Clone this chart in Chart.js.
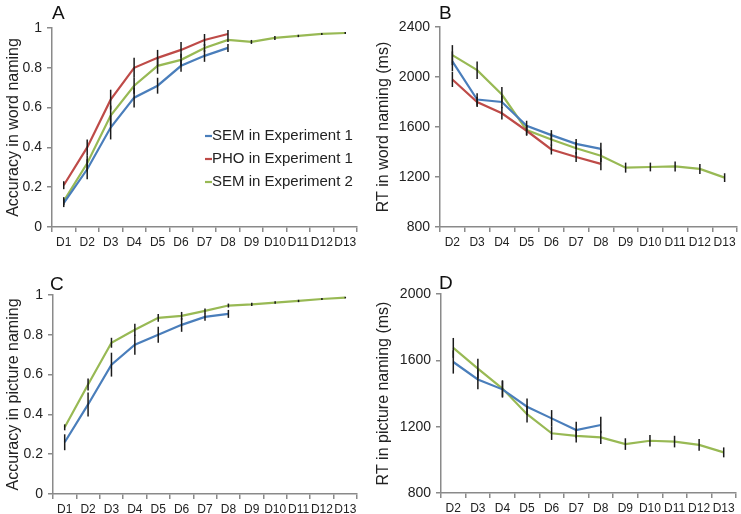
<!DOCTYPE html>
<html>
<head>
<meta charset="utf-8">
<script src="https://cdn.jsdelivr.net/npm/chart.js@4.4.1/dist/chart.umd.min.js"></script>
<style>
  body { margin: 0; background: #fff; width: 741px; height: 514px; overflow: hidden; }
  .panel { position: absolute; }
  .letter { position: absolute; font-family: "Liberation Sans", Arial, sans-serif; font-size: 19px; color: #111; }
</style>
</head>
<body>
<div class="panel" style="left:0;top:0;width:370px;height:257px"><canvas id="chartA"></canvas></div>
<div class="panel" style="left:370px;top:0;width:371px;height:257px"><canvas id="chartB"></canvas></div>
<div class="panel" style="left:0;top:257px;width:370px;height:257px"><canvas id="chartC"></canvas></div>
<div class="panel" style="left:370px;top:257px;width:371px;height:257px"><canvas id="chartD"></canvas></div>
<div class="letter" style="left:52px;top:2px">A</div>
<div class="letter" style="left:439px;top:2px">B</div>
<div class="letter" style="left:50px;top:273px">C</div>
<div class="letter" style="left:439px;top:272px">D</div>
<script>
// Dias
const daysAll = ['D1', 'D2', 'D3', 'D4', 'D5', 'D6', 'D7', 'D8', 'D9', 'D10', 'D11', 'D12', 'D13'];
const daysRT = ['D2', 'D3', 'D4', 'D5', 'D6', 'D7', 'D8', 'D9', 'D10', 'D11', 'D12', 'D13'];

// A - acurácia na nomeação de palavras
const accWordSem1 = [0.12, 0.29, 0.50, 0.65, 0.71, 0.81, 0.86, 0.90];
const accWordSem1Err = [0.02, 0.05, 0.06, 0.05, 0.04, 0.03, 0.03, 0.02];
const accWordPho1 = [0.21, 0.40, 0.64, 0.80, 0.85, 0.89, 0.94, 0.97];
const accWordPho1Err = [0.02, 0.04, 0.05, 0.05, 0.04, 0.04, 0.03, 0.02];
const accWordSem2 = [0.13, 0.32, 0.56, 0.71, 0.81, 0.84, 0.90, 0.94, 0.93, 0.95, 0.96, 0.97, 0.975];
const accWordSem2Err = [0.02, 0.04, 0.05, 0.04, 0.04, 0.03, 0.02, 0.01, 0.01, 0.01, 0.006, 0.005, 0.005];

// B - RT na nomeação de palavras
const rtWordSem1 = [2125, 1820, 1800, 1610, 1535, 1465, 1425];
const rtWordSem1Err = [80, 50, 50, 40, 40, 40, 50];
const rtWordPho1 = [1980, 1800, 1710, 1570, 1420, 1360, 1305];
const rtWordPho1Err = [60, 40, 50, 40, 40, 40, 50];
const rtWordSem2 = [2175, 2055, 1860, 1575, 1500, 1430, 1370, 1275, 1280, 1285, 1265, 1195];
const rtWordSem2Err = [80, 70, 60, 40, 50, 50, 50, 40, 35, 40, 40, 35];

// C - acurácia na nomeação de figuras
const accPicSem1 = [0.26, 0.45, 0.65, 0.75, 0.80, 0.85, 0.89, 0.905];
const accPicSem1Err = [0.04, 0.06, 0.06, 0.05, 0.04, 0.035, 0.02, 0.02];
const accPicSem2 = [0.335, 0.55, 0.76, 0.825, 0.885, 0.895, 0.92, 0.947, 0.953, 0.962, 0.97, 0.98, 0.987];
const accPicSem2Err = [0.015, 0.03, 0.025, 0.03, 0.02, 0.02, 0.012, 0.01, 0.008, 0.006, 0.006, 0.005, 0.004];

// D - RT na nomeação de figuras
const rtPicSem1 = [1590, 1485, 1425, 1320, 1250, 1180, 1210];
const rtPicSem1Err = [70, 60, 50, 50, 50, 50, 50];
const rtPicSem2 = [1675, 1550, 1430, 1275, 1160, 1145, 1135, 1095, 1115, 1110, 1090, 1045];
const rtPicSem2Err = [60, 60, 50, 50, 40, 40, 40, 35, 35, 35, 35, 30];

const BLUE = '#4a7ebb';
const RED = '#be4b48';
const GREEN = '#98b954';
const AXIS = '#8a8a8a';
const TEXT = '#222';
const FONT = '"Liberation Sans", Arial, sans-serif';

function series(label, data, err, color) {
    return {
        label: label,
        data: data,
        err: err,
        borderColor: color,
        backgroundColor: color,
        borderWidth: 2.2,
        pointRadius: 0,
        tension: 0
    };
}

// barras de erro desenhadas pelas escalas do gráfico
const errorBars = {
    id: 'errorBars',
    afterDatasetsDraw(chart) {
        const ctx = chart.ctx;
        const yScale = chart.scales.y;
        ctx.save();
        ctx.strokeStyle = '#1a1a1a';
        ctx.lineWidth = 1.5;
        chart.data.datasets.forEach((ds, di) => {
            const meta = chart.getDatasetMeta(di);
            ds.data.forEach((v, i) => {
                if (v == null || !ds.err) return;
                const e = ds.err[i];
                const x = meta.data[i].x;
                ctx.beginPath();
                ctx.moveTo(x, yScale.getPixelForValue(v - e));
                ctx.lineTo(x, yScale.getPixelForValue(v + e));
                ctx.stroke();
            });
        });
        ctx.restore();
    }
};

// legenda dentro do painel A
const insideLegend = {
    id: 'insideLegend',
    afterDraw(chart) {
        const opts = chart.options.plugins.insideLegend;
        if (!opts || !opts.display) return;
        const ctx = chart.ctx;
        ctx.save();
        ctx.font = '15px ' + FONT;
        ctx.textBaseline = 'middle';
        chart.data.datasets.forEach((ds, i) => {
            const y = opts.y + i * opts.rowHeight;
            ctx.strokeStyle = ds.borderColor;
            ctx.lineWidth = 2.2;
            ctx.beginPath();
            ctx.moveTo(opts.x, y);
            ctx.lineTo(opts.x + 7, y);
            ctx.stroke();
            ctx.fillStyle = TEXT;
            ctx.fillText(ds.label, opts.x + 7, y);
        });
        ctx.restore();
    }
};

function makeChart(id, labels, datasets, cfg) {
    return new Chart(document.getElementById(id), {
        type: 'line',
        data: { labels: labels, datasets: datasets },
        plugins: [errorBars, insideLegend],
        options: {
            responsive: true,
            maintainAspectRatio: false,
            animation: false,
            layout: { padding: { top: cfg.top, right: cfg.right, left: 0, bottom: 0 } },
            plugins: {
                legend: { display: false },
                tooltip: { enabled: false },
                insideLegend: cfg.legend || { display: false }
            },
            scales: {
                x: {
                    offset: true,
                    grid: {
                        offset: true,
                        drawOnChartArea: false,
                        drawTicks: true,
                        tickLength: 5,
                        color: AXIS,
                        lineWidth: 1.5
                    },
                    border: { color: AXIS, width: 1.5 },
                    ticks: {
                        autoSkip: false,
                        maxRotation: 0,
                        padding: 3,
                        color: TEXT,
                        font: { family: FONT, size: 12 }
                    },
                    afterFit: (scale) => { scale.height = cfg.xHeight; }
                },
                y: {
                    min: cfg.min,
                    max: cfg.max,
                    grid: {
                        drawOnChartArea: false,
                        drawTicks: true,
                        tickLength: 5,
                        color: AXIS,
                        lineWidth: 1.5
                    },
                    border: { color: AXIS, width: 1.5 },
                    ticks: {
                        stepSize: cfg.step,
                        padding: 5,
                        color: TEXT,
                        font: { family: FONT, size: 14 },
                        callback: (value) => String(Number(value.toFixed(2)))
                    },
                    title: {
                        display: true,
                        text: cfg.title,
                        color: TEXT,
                        font: { family: FONT, size: 16 },
                        padding: { top: 4, bottom: 0 }
                    },
                    afterFit: (scale) => { scale.width = cfg.yWidth; }
                }
            }
        }
    });
}

makeChart('chartA', daysAll, [
    series('SEM in Experiment 1', accWordSem1, accWordSem1Err, BLUE),
    series('PHO in Experiment 1', accWordPho1, accWordPho1Err, RED),
    series('SEM in Experiment 2', accWordSem2, accWordSem2Err, GREEN)
], {
    top: 28, right: 13, xHeight: 30, yWidth: 52,
    min: 0, max: 1, step: 0.2, title: 'Accuracy in word naming',
    legend: { display: true, x: 205, y: 136, rowHeight: 23 }
});

makeChart('chartB', daysRT, [
    series('SEM in Experiment 1', rtWordSem1, rtWordSem1Err, BLUE),
    series('PHO in Experiment 1', rtWordPho1, rtWordPho1Err, RED),
    series('SEM in Experiment 2', rtWordSem2, rtWordSem2Err, GREEN)
], {
    top: 27, right: 4, xHeight: 30, yWidth: 70,
    min: 800, max: 2400, step: 400, title: 'RT in word naming (ms)'
});

makeChart('chartC', daysAll, [
    series('SEM in Experiment 1', accPicSem1, accPicSem1Err, BLUE),
    series('SEM in Experiment 2', accPicSem2, accPicSem2Err, GREEN)
], {
    top: 38, right: 13, xHeight: 20, yWidth: 53,
    min: 0, max: 1, step: 0.2, title: 'Accuracy in picture naming'
});

makeChart('chartD', daysRT, [
    series('SEM in Experiment 1', rtPicSem1, rtPicSem1Err, BLUE),
    series('SEM in Experiment 2', rtPicSem2, rtPicSem2Err, GREEN)
], {
    top: 37, right: 5, xHeight: 21, yWidth: 71,
    min: 800, max: 2000, step: 400, title: 'RT in picture naming (ms)'
});
</script>
</body>
</html>
